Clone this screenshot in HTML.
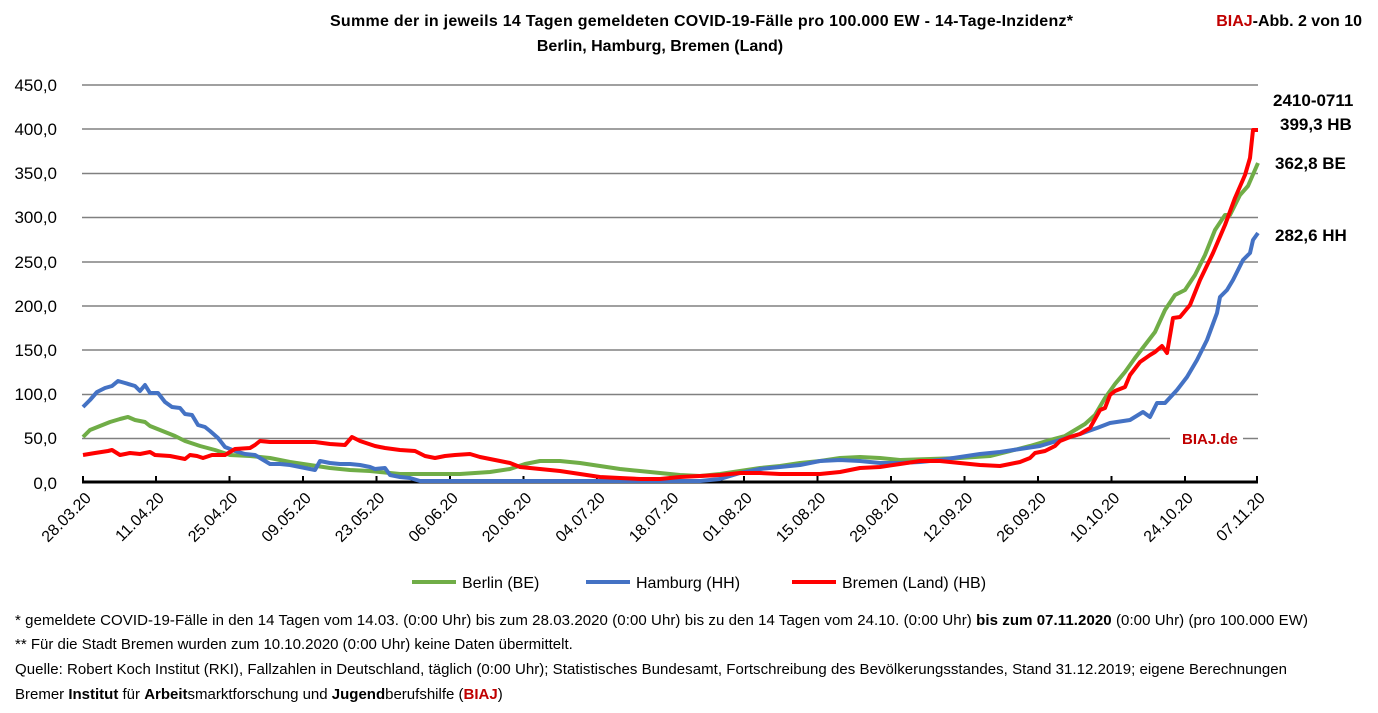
<!DOCTYPE html>
<html><head><meta charset="utf-8"><style>
body{margin:0;background:#fff;width:1378px;height:713px;overflow:hidden;font-family:"Liberation Sans",sans-serif;}
svg{position:absolute;left:0;top:0}
</style></head><body>
<svg width="1378" height="713" viewBox="0 0 1378 713" font-family="Liberation Sans, sans-serif">
<text x="330" y="26" textLength="743" font-size="16" font-weight="bold">Summe der in jeweils 14 Tagen gemeldeten COVID-19-Fälle pro 100.000 EW - 14-Tage-Inzidenz*</text>
<text x="660" y="51" text-anchor="middle" font-size="16" font-weight="bold">Berlin, Hamburg, Bremen (Land)</text>
<text x="1362" y="26" text-anchor="end" font-size="16" font-weight="bold"><tspan fill="#c00000">BIAJ</tspan>-Abb. 2 von 10</text>
<g stroke="#808080" stroke-width="1.5">
<line x1="82" x2="1258" y1="85" y2="85"/><line x1="82" x2="1258" y1="129" y2="129"/><line x1="82" x2="1258" y1="173.5" y2="173.5"/><line x1="82" x2="1258" y1="217.5" y2="217.5"/><line x1="82" x2="1258" y1="262" y2="262"/><line x1="82" x2="1258" y1="306" y2="306"/><line x1="82" x2="1258" y1="350" y2="350"/><line x1="82" x2="1258" y1="394.5" y2="394.5"/>
<line x1="82" x2="1170" y1="438.5" y2="438.5"/><line x1="1243" x2="1258" y1="438.5" y2="438.5"/>
</g>
<text x="1182" y="444" font-size="15" font-weight="bold" fill="#c00000">BIAJ.de</text>
<g font-size="17" text-anchor="end" fill="#000">
<text x="57" y="91">450,0</text><text x="57" y="135">400,0</text><text x="57" y="179">350,0</text><text x="57" y="223">300,0</text><text x="57" y="268">250,0</text><text x="57" y="312">200,0</text><text x="57" y="356">150,0</text><text x="57" y="400">100,0</text><text x="57" y="444">50,0</text><text x="57" y="489">0,0</text>
</g>
<line x1="82" x2="1258" y1="482" y2="482" stroke="#000" stroke-width="3"/>
<g stroke="#000" stroke-width="2">
<line x1="83" x2="83" y1="476" y2="482"/><line x1="156" x2="156" y1="476" y2="482"/><line x1="229.5" x2="229.5" y1="476" y2="482"/><line x1="303" x2="303" y1="476" y2="482"/><line x1="376.5" x2="376.5" y1="476" y2="482"/><line x1="450" x2="450" y1="476" y2="482"/><line x1="523.5" x2="523.5" y1="476" y2="482"/><line x1="597" x2="597" y1="476" y2="482"/><line x1="670.5" x2="670.5" y1="476" y2="482"/><line x1="744" x2="744" y1="476" y2="482"/><line x1="817.5" x2="817.5" y1="476" y2="482"/><line x1="891" x2="891" y1="476" y2="482"/><line x1="964.5" x2="964.5" y1="476" y2="482"/><line x1="1038" x2="1038" y1="476" y2="482"/><line x1="1111.5" x2="1111.5" y1="476" y2="482"/><line x1="1185" x2="1185" y1="476" y2="482"/><line x1="1257" x2="1257" y1="476" y2="482"/>
</g>
<g font-size="16" text-anchor="end">
<text transform="translate(92,499) rotate(-45)">28.03.20</text>
<text transform="translate(165,499) rotate(-45)">11.04.20</text>
<text transform="translate(238.5,499) rotate(-45)">25.04.20</text>
<text transform="translate(312,499) rotate(-45)">09.05.20</text>
<text transform="translate(385.5,499) rotate(-45)">23.05.20</text>
<text transform="translate(459,499) rotate(-45)">06.06.20</text>
<text transform="translate(532.5,499) rotate(-45)">20.06.20</text>
<text transform="translate(606,499) rotate(-45)">04.07.20</text>
<text transform="translate(679.5,499) rotate(-45)">18.07.20</text>
<text transform="translate(753,499) rotate(-45)">01.08.20</text>
<text transform="translate(826.5,499) rotate(-45)">15.08.20</text>
<text transform="translate(900,499) rotate(-45)">29.08.20</text>
<text transform="translate(973.5,499) rotate(-45)">12.09.20</text>
<text transform="translate(1047,499) rotate(-45)">26.09.20</text>
<text transform="translate(1120.5,499) rotate(-45)">10.10.20</text>
<text transform="translate(1194,499) rotate(-45)">24.10.20</text>
<text transform="translate(1266,499) rotate(-45)">07.11.20</text>
</g>
<g fill="none" stroke-width="4" stroke-linejoin="round">
<polyline stroke="#70ad47" points="83,437 90,430 100,426 110,422 120,419 128,417 135,420 145,422 150,426 160,430 175,436 185,441 200,446 215,450 230,455 250,456 270,458 290,462 310,465 330,468 350,470 370,471 390,473 400,474 420,474 460,474 490,472 510,469 525,464 540,461 560,461 580,463 600,466 620,469 640,471 660,473 680,475 700,476 720,474 740,471 760,468 780,466 800,463 820,461 840,458 860,457 880,458 900,460 930,459 960,458 990,456 1010,451 1030,446 1050,440 1065,436 1075,430 1085,424 1095,415 1105,398 1115,384 1125,372 1135,358 1145,345 1155,332 1165,310 1175,295 1185,290 1195,275 1205,255 1215,230 1225,215 1230,215 1240,195 1248,186 1258,163"/>
<polyline stroke="#4472c4" points="83,407 90,400 97,392 105,388 112,386 118,381 125,383 135,386 140,391 145,385 150,393 158,393 165,402 172,407 180,408 185,414 192,415 198,425 205,427 210,431 218,438 225,447 235,451 245,454 255,455 260,458 265,461 270,464 280,464 290,465 300,467 310,469 315,470 320,461 330,463 340,464 350,464 360,465 370,467 375,469 385,468 390,475 400,477 410,478 420,481 700,481 720,479 740,473 760,469 780,467 800,465 820,461 840,460 860,461 880,463 900,463 920,462 940,460 960,457 980,454 1000,452 1020,449 1040,446 1060,440 1080,434 1097,428 1110,423 1130,420 1143,412 1150,417 1157,403 1165,403 1177,390 1187,377 1197,360 1207,340 1217,313 1220,297 1227,290 1233,280 1243,260 1250,253 1253,240 1258,233"/>
<polyline stroke="#ff0000" points="83,455 95,453 108,451 112,450 120,455 130,453 140,454 150,452 155,455 170,456 185,459 190,455 197,456 203,458 212,455 225,455 235,449 250,448 255,445 260,441 270,442 300,442 315,442 330,444 345,445 352,437 360,441 375,446 385,448 400,450 415,451 425,456 435,458 445,456 455,455 470,454 480,457 490,459 500,461 510,463 520,467 540,469 560,471 580,474 600,477 620,478 640,479 660,479 680,477 700,476 720,475 740,473 760,473 780,474 800,474 820,474 840,472 860,468 880,467 900,464 920,461 940,461 960,463 980,465 1000,466 1010,464 1020,462 1030,458 1035,453 1045,451 1055,446 1060,441 1070,437 1080,434 1090,428 1100,410 1105,408 1110,395 1115,391 1125,387 1130,375 1140,362 1150,355 1155,352 1162,346 1167,353 1173,318 1180,317 1190,305 1200,280 1213,253 1225,225 1235,198 1245,175 1250,158 1253,130 1258,130"/>
</g>
<g font-size="17" font-weight="bold">
<text x="1273" y="106">2410-0711</text>
<text x="1280" y="130">399,3 HB</text>
<text x="1275" y="169">362,8  BE</text>
<text x="1275" y="241">282,6  HH</text>
</g>
<g font-size="16">
<line x1="412" x2="456" y1="582" y2="582" stroke="#70ad47" stroke-width="4"/><text x="462" y="588">Berlin (BE)</text>
<line x1="586" x2="630" y1="582" y2="582" stroke="#4472c4" stroke-width="4"/><text x="636" y="588">Hamburg (HH)</text>
<line x1="792" x2="836" y1="582" y2="582" stroke="#ff0000" stroke-width="4"/><text x="842" y="588">Bremen (Land) (HB)</text>
</g>
<g font-size="15">
<text x="15" y="625" textLength="1293">*   gemeldete COVID-19-Fälle in den 14 Tagen vom 14.03. (0:00 Uhr) bis zum 28.03.2020 (0:00 Uhr) bis zu den 14 Tagen vom 24.10. (0:00 Uhr) <tspan font-weight="bold">bis zum 07.11.2020</tspan> (0:00 Uhr) (pro 100.000 EW)</text>
<text x="15" y="649">** Für die Stadt Bremen wurden zum 10.10.2020 (0:00 Uhr) keine Daten übermittelt.</text>
<text x="15" y="674" textLength="1272">Quelle: Robert Koch Institut (RKI), Fallzahlen in Deutschland, täglich (0:00 Uhr); Statistisches Bundesamt, Fortschreibung des Bevölkerungsstandes, Stand 31.12.2019; eigene Berechnungen</text>
<text x="15" y="699">Bremer <tspan font-weight="bold">Institut</tspan> für <tspan font-weight="bold">Arbeit</tspan>smarktforschung und <tspan font-weight="bold">Jugend</tspan>berufshilfe (<tspan fill="#c00000" font-weight="bold">BIAJ</tspan>)</text>
</g>
</svg>
</body></html>
